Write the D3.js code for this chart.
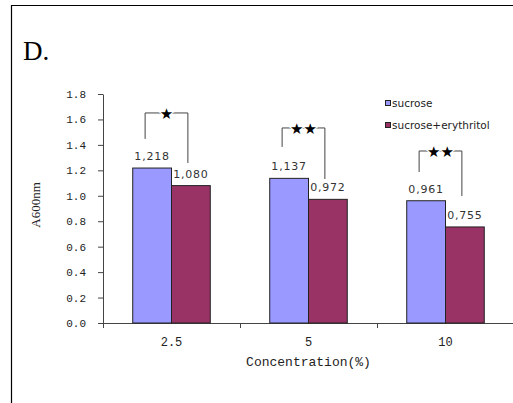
<!DOCTYPE html>
<html>
<head>
<meta charset="utf-8">
<script src="https://cdn.jsdelivr.net/npm/d3@7"></script>
<style>
  body { margin: 0; background: #fff; }
  svg { display: block; }
</style>
</head>
<body>
<script>
var svgWidth = 513;
var svgHeight = 403;

// chart data
var categories = ["2.5", "5", "10"];
var seriesNames = ["sucrose", "sucrose+erythritol"];
var sucrose = [1.218, 1.137, 0.961];
var sucroseErythritol = [1.080, 0.972, 0.755];
var valueLabels = [["1,218", "1,080"], ["1,137", "0,972"], ["0,961", "0,755"]];
var yTicks = [0, 0.2, 0.4, 0.6, 0.8, 1.0, 1.2, 1.4, 1.6, 1.8];

// significance brackets: top, left leg end, right leg end (in A600 units)
var sigMarks = ["★", "★★", "★★"];
var sigTop = [1.651, 1.533, 1.352];
var sigLeftEnd = [1.447, 1.384, 1.187];
var sigRightEnd = [1.258, 1.132, 0.998];

var colors = ["#9999ff", "#993366"];

var margin = { top: 94, left: 103, bottom: 80 };
var plotRight = 514;
var plotBottom = 323;

var svg = d3.select("body")
  .append("svg")
  .attr("width", svgWidth)
  .attr("height", svgHeight);

// frame
svg.append("path")
  .attr("d", "M11.5," + svgHeight + "V5.5H" + svgWidth)
  .attr("fill", "none")
  .attr("stroke", "#000")
  .attr("stroke-width", 1.2);

svg.append("text")
  .attr("x", 23)
  .attr("y", 60)
  .attr("font-family", "Liberation Serif")
  .attr("font-size", 27)
  .attr("fill", "#000")
  .text("D.");

var xScale = d3.scaleBand()
  .domain(categories)
  .range([margin.left, plotRight]);

var bw = xScale.bandwidth();
var xInner = d3.scaleBand()
  .domain(seriesNames)
  .range([bw * 0.217, bw * 0.783]);

var yScale = d3.scaleLinear()
  .domain([0, 1.8])
  .range([plotBottom, margin.top]);

// y axis
var yAxis = svg.append("g")
  .attr("transform", "translate(" + margin.left + ",0)")
  .call(d3.axisLeft(yScale)
    .tickValues(yTicks)
    .tickFormat(d3.format(".1f"))
    .tickSize(5)
    .tickSizeOuter(0));
yAxis.select(".domain").attr("stroke", "#444");
yAxis.selectAll(".tick line").attr("stroke", "#444");
yAxis.selectAll(".tick text")
  .attr("x", -17)
  .attr("font-family", "Liberation Mono")
  .attr("font-size", 11)
  .attr("fill", "#222");

// x axis
var xAxis = svg.append("g")
  .attr("transform", "translate(0," + plotBottom + ")")
  .call(d3.axisBottom(xScale).tickSize(0).tickSizeOuter(0));
xAxis.select(".domain").attr("stroke", "#444");
xAxis.selectAll(".tick text")
  .attr("y", 14)
  .attr("font-family", "Liberation Mono")
  .attr("font-size", 12)
  .attr("fill", "#222");

var bounds = categories.map(function(c) { return xScale(c); }).concat([plotRight - 0.5]);
svg.selectAll("line.xbound")
  .data(bounds)
  .enter()
  .append("line")
  .attr("class", "xbound")
  .attr("x1", d => Math.round(d) + 0.5)
  .attr("x2", d => Math.round(d) + 0.5)
  .attr("y1", plotBottom)
  .attr("y2", plotBottom + 5)
  .attr("stroke", "#444");

// axis titles
svg.append("text")
  .attr("transform", "translate(37,205) rotate(-90)")
  .attr("text-anchor", "middle")
  .attr("dominant-baseline", "middle")
  .attr("font-family", "Liberation Serif")
  .attr("font-size", 13)
  .attr("fill", "#222")
  .text("A600nm");

svg.append("text")
  .attr("x", (margin.left + plotRight) / 2)
  .attr("y", 366)
  .attr("text-anchor", "middle")
  .attr("font-family", "Liberation Mono")
  .attr("font-size", 13)
  .attr("fill", "#222")
  .text("Concentration(%)");

// bars
var rows = categories.map(function(c, i) {
  return { cat: c, i: i, values: [sucrose[i], sucroseErythritol[i]] };
});

var groups = svg.selectAll("g.grp")
  .data(rows)
  .enter()
  .append("g")
  .attr("class", "grp")
  .attr("transform", d => "translate(" + xScale(d.cat) + ",0)");

groups.selectAll("rect")
  .data(d => d.values.map((v, k) => ({ v: v, k: k })))
  .enter()
  .append("rect")
  .attr("x", d => xInner(seriesNames[d.k]))
  .attr("y", d => yScale(d.v))
  .attr("width", xInner.bandwidth())
  .attr("height", d => plotBottom - yScale(d.v))
  .attr("fill", d => colors[d.k])
  .attr("stroke", "#222")
  .attr("stroke-width", 1);

groups.selectAll("text.val")
  .data(d => d.values.map((v, k) => ({ v: v, k: k, label: valueLabels[d.i][k] })))
  .enter()
  .append("text")
  .attr("class", "val")
  .attr("x", d => xInner(seriesNames[d.k]) + xInner.bandwidth() / 2)
  .attr("y", d => yScale(d.v) - 8)
  .attr("text-anchor", "middle")
  .attr("font-family", "DejaVu Sans")
  .attr("font-size", 11)
  .attr("letter-spacing", 0.8)
  .attr("fill", "#333")
  .text(d => d.label);

// significance brackets
groups.each(function(d) {
  var g = d3.select(this);
  var xl = xInner(seriesNames[0]) + xInner.bandwidth() / 2 - 7;
  var xr = xInner(seriesNames[1]) + xInner.bandwidth() / 2 - 3;
  var yt = yScale(sigTop[d.i]);
  g.append("path")
    .attr("d", "M" + xl + "," + yScale(sigLeftEnd[d.i]) + "V" + yt + "H" + xr + "V" + yScale(sigRightEnd[d.i]))
    .attr("fill", "none")
    .attr("stroke", "#444")
    .attr("stroke-width", 1);
  g.append("text")
    .attr("x", (xl + xr) / 2)
    .attr("y", yt + 6)
    .attr("text-anchor", "middle")
    .attr("font-family", "DejaVu Sans")
    .attr("font-size", 15)
    .attr("fill", "#000")
    .attr("stroke", "#fff")
    .attr("stroke-width", 2)
    .attr("paint-order", "stroke")
    .text(sigMarks[d.i]);
});

// legend
var legend = svg.selectAll("g.legend")
  .data(seriesNames)
  .enter()
  .append("g")
  .attr("class", "legend")
  .attr("transform", (d, i) => "translate(385," + (104 + i * 22) + ")");

legend.append("rect")
  .attr("x", 0.5)
  .attr("y", -3.5)
  .attr("width", 5)
  .attr("height", 5)
  .attr("fill", (d, i) => colors[i])
  .attr("stroke", "#222");

legend.append("text")
  .attr("x", 7)
  .attr("y", 0)
  .attr("dominant-baseline", "middle")
  .attr("font-family", "DejaVu Sans")
  .attr("font-size", 10.5)
  .attr("fill", "#222")
  .text(d => d);
</script>
</body>
</html>
